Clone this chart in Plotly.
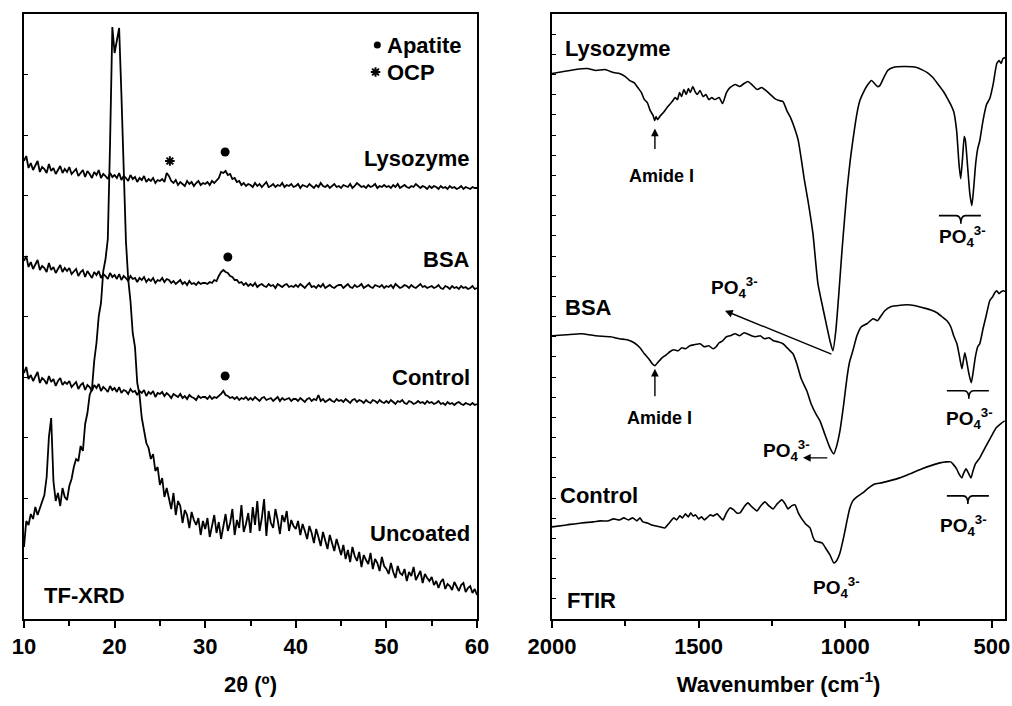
import plotly.graph_objects as go

# ---------------- TF-XRD data (intensity in arbitrary, offset units) ----------------
two_theta = [10 + 0.25 * i for i in range(201)]

xrd_lysozyme = (
    [458, 463, 451, 456, 449, 454, 458, 447, 452, 450, 446, 455, 448, 451, 445, 449, 453, 446, 450, 447]
    + [452, 445, 447, 450, 443, 446, 449, 442, 448, 445, 441, 447, 444, 449, 441, 445, 443, 440, 446, 442]
    + [444, 441, 446, 439, 443, 441, 438, 444, 440, 442, 437, 441, 439, 443, 437, 440, 438, 441, 436, 439]
    + [438, 440, 437, 446, 443, 438, 436, 439, 434, 437, 435, 433, 438, 435, 437, 433, 436, 438, 434, 436]
    + [435, 437, 434, 438, 436, 439, 441, 447, 446, 448, 444, 445, 440, 441, 437, 438, 434, 436, 433, 435]
    + [434, 432, 436, 433, 435, 432, 434, 437, 432, 433, 435, 432, 434, 433, 436, 432, 434, 433, 435, 432]
    + [433, 435, 431, 434, 433, 432, 435, 433, 431, 434, 432, 436, 433, 432, 434, 431, 433, 435, 432, 433]
    + [431, 434, 433, 432, 435, 431, 433, 436, 434, 432, 433, 431, 434, 432, 433, 435, 431, 433, 432, 434]
    + [432, 433, 431, 434, 432, 435, 431, 433, 434, 432, 431, 433, 432, 435, 433, 431, 433, 432, 430, 433]
    + [431, 433, 432, 430, 433, 431, 432, 430, 433, 431, 432, 430, 431, 433, 430, 432, 431, 430, 432, 431]
    + [431]
)
xrd_bsa = (
    [358, 363, 352, 357, 350, 355, 359, 349, 353, 351, 347, 356, 349, 352, 346, 350, 354, 347, 351, 348]
    + [351, 345, 348, 350, 343, 347, 349, 342, 348, 345, 341, 347, 344, 348, 341, 345, 343, 340, 346, 342]
    + [344, 340, 345, 339, 343, 341, 338, 343, 340, 341, 337, 341, 339, 342, 337, 340, 338, 341, 336, 339]
    + [338, 341, 337, 340, 339, 336, 338, 335, 337, 339, 335, 337, 334, 338, 335, 336, 334, 337, 335, 336]
    + [336, 335, 337, 336, 339, 338, 343, 347, 349, 347, 346, 343, 342, 339, 339, 336, 337, 334, 336, 333]
    + [335, 333, 336, 332, 334, 335, 333, 332, 335, 333, 334, 331, 335, 333, 332, 334, 335, 332, 333, 332]
    + [334, 332, 335, 333, 331, 334, 336, 332, 333, 331, 334, 332, 335, 331, 333, 334, 332, 331, 333, 334]
    + [334, 331, 333, 335, 332, 331, 334, 332, 333, 335, 331, 333, 334, 332, 331, 334, 333, 332, 334, 331]
    + [333, 332, 334, 331, 335, 333, 331, 332, 334, 333, 331, 334, 332, 331, 333, 335, 332, 333, 331, 332]
    + [333, 331, 332, 334, 331, 330, 333, 332, 330, 333, 331, 332, 330, 333, 331, 332, 330, 331, 333, 330]
    + [331]
)
xrd_control = (
    [246, 252, 240, 244, 238, 243, 247, 236, 241, 239, 235, 243, 237, 240, 233, 238, 241, 234, 237, 235]
    + [238, 232, 235, 237, 230, 234, 236, 229, 234, 232, 228, 234, 231, 235, 228, 232, 230, 227, 233, 229]
    + [231, 227, 232, 226, 229, 228, 225, 230, 227, 228, 224, 228, 226, 229, 223, 227, 225, 228, 222, 226]
    + [225, 227, 223, 226, 224, 221, 225, 223, 222, 225, 221, 223, 220, 224, 222, 221, 219, 223, 221, 222]
    + [222, 220, 223, 220, 222, 221, 223, 225, 228, 224, 223, 221, 222, 220, 222, 219, 221, 220, 222, 219]
    + [221, 219, 222, 220, 218, 221, 222, 219, 220, 221, 218, 220, 222, 218, 221, 219, 220, 221, 218, 220]
    + [220, 218, 221, 219, 217, 220, 221, 218, 220, 219, 224, 218, 220, 217, 219, 220, 218, 217, 220, 218]
    + [219, 217, 220, 218, 216, 219, 220, 217, 219, 218, 216, 219, 217, 216, 219, 218, 216, 219, 217, 216]
    + [218, 216, 219, 217, 215, 218, 217, 219, 216, 215, 218, 217, 215, 216, 218, 216, 217, 215, 218, 216]
    + [217, 215, 216, 218, 215, 216, 214, 217, 215, 216, 214, 216, 217, 215, 214, 216, 215, 214, 216, 214]
    + [215]
)
xrd_uncoated = (
    [72, 98, 94, 105, 100, 112, 104, 110, 116, 124, 142, 182, 201, 138, 118, 126, 113, 131, 122, 119]
    + [133, 140, 152, 160, 158, 173, 168, 195, 206, 224, 230, 258, 276, 303, 316, 348, 360, 380, 476, 592]
    + [566, 578, 591, 525, 451, 378, 340, 318, 286, 272, 236, 224, 201, 190, 176, 171, 160, 165, 148, 152]
    + [134, 141, 122, 131, 119, 110, 126, 104, 118, 113, 96, 109, 104, 91, 107, 99, 94, 101, 84, 98]
    + [90, 101, 82, 95, 104, 86, 97, 80, 92, 105, 88, 96, 110, 84, 99, 91, 114, 87, 95, 106]
    + [86, 112, 94, 118, 88, 101, 120, 83, 108, 96, 91, 110, 99, 85, 104, 97, 108, 88, 99, 93]
    + [90, 98, 84, 95, 88, 80, 93, 86, 76, 90, 82, 73, 87, 79, 70, 84, 75, 68, 80, 72]
    + [64, 74, 60, 69, 57, 72, 63, 58, 67, 52, 64, 59, 55, 66, 50, 60, 56, 48, 62, 53]
    + [50, 45, 56, 47, 41, 53, 46, 44, 50, 38, 47, 43, 52, 39, 44, 48, 36, 45, 41, 38]
    + [42, 34, 38, 31, 37, 40, 30, 35, 33, 29, 37, 32, 28, 34, 36, 27, 31, 33, 26, 30]
    + [24]
)
for s in (xrd_lysozyme, xrd_bsa, xrd_control, xrd_uncoated):
    assert len(s) == len(two_theta), len(s)

# peak markers (2-theta, offset intensity)
apatite_x = [32.2, 32.5, 32.2]
apatite_y = [467, 362, 243]
ocp_x = [26.1]
ocp_y = [458]

# ---------------- FTIR data (transmittance in offset units) ----------------
lyso_wn = [2000, 1960, 1920, 1880, 1850, 1820, 1790, 1770, 1750, 1735,
           1720, 1705, 1695, 1685, 1675, 1665, 1655, 1650, 1645, 1640,
           1630, 1620, 1605, 1590, 1580, 1572, 1565, 1558, 1550, 1542,
           1535, 1528, 1520, 1512, 1505, 1495, 1485, 1475, 1465, 1455,
           1445, 1430, 1418, 1405, 1393, 1375, 1360, 1345, 1332, 1315,
           1300, 1285, 1270, 1255, 1240, 1225, 1212, 1199, 1185, 1170,
           1160, 1150, 1140, 1127, 1110, 1093, 1069, 1052, 1042, 1032,
           1021, 1011, 994, 983, 974, 960, 950, 940, 925, 910,
           900, 890, 882, 870, 855, 837, 800, 756, 720, 701,
           680, 665, 653, 640, 630, 620, 612, 606, 600, 594,
           590, 582, 575, 568, 562, 555, 548, 541, 530, 518,
           507, 495, 483, 475, 468, 462, 455]
lyso_t = [545, 547, 549, 550, 548, 549, 546, 545, 542, 538,
          536, 530, 526, 519, 516, 508, 503, 498, 502, 499,
          503, 506, 512, 517, 521, 519, 526, 522, 529, 524,
          530, 526, 532, 527, 524, 528, 522, 524, 519, 521,
          519, 521, 515, 526, 531, 534, 532, 535, 537, 533,
          529, 531, 528, 524, 520, 518, 517, 508, 500, 488,
          478, 460, 440, 418, 385, 335, 301, 278, 268, 288,
          328, 368, 428, 458, 478, 505, 518, 525, 533, 538,
          535, 532, 533, 540, 548, 551, 552, 551, 546, 541,
          533, 527, 521, 514, 507, 488, 455, 440, 460, 482,
          478, 450, 425, 413, 430, 455, 470, 478, 498, 514,
          520, 535, 555, 558, 555, 560, 561]

bsa_wn = [2000, 1950, 1900, 1850, 1800, 1770, 1744, 1720, 1700, 1685,
          1670, 1658, 1649, 1640, 1625, 1610, 1598, 1585, 1570, 1557,
          1545, 1530, 1515, 1495, 1480, 1465, 1451, 1440, 1430, 1418,
          1405, 1393, 1375, 1360, 1345, 1335, 1320, 1305, 1290, 1275,
          1260, 1245, 1230, 1212, 1195, 1178, 1165, 1150, 1131, 1115,
          1100, 1086, 1070, 1052, 1039, 1030, 1018, 1005, 994, 985,
          974, 960, 945, 926, 905, 890, 882, 865, 845, 824,
          790, 760, 735, 710, 687, 670, 653, 640, 630, 619,
          610, 602, 597, 592, 586, 578, 570, 563, 556, 548,
          541, 530, 520, 507, 497, 490, 483, 475, 468, 460,
          455]
bsa_t = [283, 284, 285, 283, 282, 280, 279, 276, 271, 265,
         260, 255, 253, 256, 261, 264, 267, 269, 268, 271,
         270, 273, 274, 275, 272, 273, 270, 272, 276, 278,
         282, 283, 285, 283, 286, 285, 283, 282, 283, 280,
         281, 278, 277, 275, 270, 265, 255, 240, 228, 214,
         205, 198, 185, 171, 165, 172, 188, 215, 241, 257,
         268, 283, 292, 295, 300, 298, 301, 308, 312, 313,
         314, 313, 311, 309, 306, 302, 298, 292, 283, 275,
         262, 250, 258, 266, 258, 245, 236, 248, 262, 272,
         275, 290, 302, 318, 322, 326, 328, 325, 327, 328,
         327]

ctrl_wn = [2000, 1950, 1900, 1860, 1836, 1810, 1790, 1770, 1755, 1740,
           1725, 1710, 1700, 1690, 1675, 1660, 1645, 1630, 1615, 1600,
           1585, 1575, 1564, 1555, 1545, 1535, 1527, 1519, 1510, 1500,
           1490, 1480, 1472, 1460, 1450, 1437, 1427, 1417, 1405, 1393,
           1380, 1370, 1359, 1345, 1332, 1318, 1301, 1288, 1274, 1260,
           1246, 1232, 1216, 1205, 1195, 1183, 1171, 1160, 1148, 1135,
           1120, 1110, 1103, 1092, 1079, 1065, 1052, 1039, 1030, 1018,
           1005, 994, 985, 974, 960, 940, 920, 900, 877, 850,
           814, 780, 740, 700, 677, 655, 640, 633, 620, 612,
           602, 597, 588, 580, 571, 565, 556, 541, 525, 510,
           497, 485, 470, 456]
ctrl_t = [92, 94, 96, 97, 98, 98, 100, 99, 101, 99,
          101, 98, 101, 97, 96, 94, 93, 92, 91, 96,
          101, 99, 103, 101, 105, 102, 106, 103, 104, 100,
          102, 99, 101, 104, 103, 105, 102, 99, 106, 111,
          109, 106, 106, 112, 116, 112, 108, 113, 117, 113,
          110, 115, 119, 115, 110, 113, 114, 106, 100, 95,
          91, 82, 78, 77, 76, 70, 64, 56, 58, 66,
          82, 98, 110, 118, 122, 126, 131, 135, 136, 138,
          141, 145, 150, 154, 156, 157, 157, 155, 150, 145,
          141, 145, 150, 146, 141, 147, 155, 161, 170, 178,
          185, 191, 195, 198]
for a, b in ((lyso_wn, lyso_t), (bsa_wn, bsa_t), (ctrl_wn, ctrl_t)):
    assert len(a) == len(b), (len(a), len(b))

# ---------------- figure ----------------
FONT = "Liberation Sans, Arial, Helvetica, sans-serif"
BLACK = "#000000"

fig = go.Figure()
for ys in (xrd_lysozyme, xrd_bsa, xrd_control, xrd_uncoated):
    fig.add_trace(go.Scatter(x=two_theta, y=ys, mode="lines",
                             line=dict(color=BLACK, width=1.8),
                             xaxis="x", yaxis="y", showlegend=False, hoverinfo="skip"))
fig.add_trace(go.Scatter(x=apatite_x + [49.0], y=apatite_y + [574], mode="markers",
                         marker=dict(symbol="circle", size=[9, 9, 9, 7], color=BLACK, opacity=1,
                                     line=dict(width=0, color=BLACK)),
                         xaxis="x", yaxis="y", showlegend=False, hoverinfo="skip"))
fig.add_trace(go.Scatter(x=ocp_x + [48.8], y=ocp_y + [547], mode="markers",
                         marker=dict(symbol="asterisk-open", size=8, color=BLACK, opacity=1,
                                     line=dict(color=BLACK, width=2)),
                         xaxis="x", yaxis="y", showlegend=False, hoverinfo="skip"))

for wn, tt in ((lyso_wn, lyso_t), (bsa_wn, bsa_t), (ctrl_wn, ctrl_t)):
    fig.add_trace(go.Scatter(x=wn, y=tt, mode="lines",
                             line=dict(color=BLACK, width=1.6, shape="spline", smoothing=0.5),
                             xaxis="x2", yaxis="y2", showlegend=False, hoverinfo="skip"))

ann = []


def txt(x, y, s, size=22, xa="left", ref="1", ya="middle"):
    ann.append(dict(x=x, y=y, xref="x" + ("" if ref == "1" else ref), yref="y" + ("" if ref == "1" else ref),
                    text="<b>" + s + "</b>", showarrow=False, xanchor=xa, yanchor=ya,
                    font=dict(family=FONT, size=size, color=BLACK)))


def arrow(xh, yh, xt, yt):
    ann.append(dict(x=xh, y=yh, ax=xt, ay=yt, xref="x2", yref="y2", axref="x2", ayref="y2",
                    text="", showarrow=True, arrowhead=2, arrowsize=1.1, arrowwidth=1.4,
                    arrowcolor=BLACK, standoff=0, startstandoff=0))


# left panel labels
txt(49.9, 574, "Apatite", 22)
txt(49.9, 547, "OCP", 22)
txt(59.5, 461, "Lysozyme", 22, xa="right")
txt(59.5, 360, "BSA", 22, xa="right")
txt(59.5, 242, "Control", 22, xa="right")
txt(59.5, 86, "Uncoated", 22, xa="right")
txt(12.0, 24, "TF-XRD", 22)

# right panel labels
PO4 = "PO<sub>4</sub><sup>3-</sup>"
txt(1962, 570, "Lysozyme", 22, ref="2")
txt(1962, 311, "BSA", 22, ref="2")
txt(1979, 123, "Control", 22, ref="2")
txt(1956, 18, "FTIR", 22, ref="2")
txt(1628, 443, "Amide I", 18, xa="center", ref="2")
txt(1632, 201, "Amide I", 18, xa="center", ref="2")
txt(686, 382, PO4, 19, ref="2")
txt(1463, 331, PO4, 19, ref="2")
txt(1288, 168, PO4, 19, ref="2")
txt(662, 200, PO4, 19, ref="2")
txt(682, 93, PO4, 19, ref="2")
txt(1116, 31, PO4, 19, ref="2")

arrow(1649, 490, 1649, 468)
arrow(1649, 250, 1649, 221)
arrow(1410, 308, 1042, 264)
arrow(1144, 161, 1056, 161)

# curly brackets under the phosphate doublets (wavenumber left/centre/right, y, tip)
brackets = [(680.5, 605.5, 537.3, 403, 395),
            (653.3, 578.2, 510.0, 228, 220),
            (653.3, 581.6, 510.0, 123, 115)]
shapes = []
for xl, xc, xr, y0, tip in brackets:
    d = 16
    path = (f"M {xl},{y0} L {xc + d},{y0} Q {xc},{y0} {xc},{tip} "
            f"Q {xc},{y0} {xc - d},{y0} L {xr},{y0}")
    shapes.append(dict(type="path", path=path, xref="x2", yref="y2",
                       line=dict(color=BLACK, width=1.6)))

tickfont = dict(family=FONT, size=22, color=BLACK, weight="bold")
titlefont = dict(family=FONT, size=22, color=BLACK, weight="bold")
ydom = [(706 - 619) / 706, (706 - 14) / 706]

common_x = dict(showline=True, linecolor=BLACK, linewidth=1.5, mirror=True, showgrid=False,
                zeroline=False, ticks="outside", ticklen=7, tickwidth=1.5, tickcolor=BLACK,
                tickfont=tickfont, ticklabelstandoff=0, automargin=False)
common_y = dict(showline=True, linecolor=BLACK, linewidth=1.5, mirror=True, showgrid=False,
                zeroline=False, ticks="inside", ticklen=4, tickwidth=1, tickcolor=BLACK,
                showticklabels=False, domain=ydom, automargin=False)

fig.update_layout(
    width=1012, height=706,
    margin=dict(l=0, r=0, t=0, b=0, autoexpand=False),
    paper_bgcolor="white", plot_bgcolor="white",
    xaxis=dict(domain=[24 / 1012, 477 / 1012], range=[10, 60], tick0=10, dtick=10,
               minor=dict(dtick=5, ticks="outside", ticklen=5, tickwidth=1.5, tickcolor=BLACK),
               title=dict(text="2θ (º)", font=titlefont, standoff=18),
               anchor="y", **common_x),
    yaxis=dict(range=[0, 605], tick0=0, dtick=60.5, anchor="x", **common_y),
    xaxis2=dict(domain=[552 / 1012, 1005 / 1012], range=[2000, 455], tick0=0, dtick=500,
                minor=dict(dtick=250, ticks="outside", ticklen=5, tickwidth=1.5, tickcolor=BLACK),
                title=dict(text="Wavenumber (cm<sup>-1</sup>)", font=titlefont, standoff=18),
                anchor="y2", **common_x),
    yaxis2=dict(range=[0, 604.5], tick0=0, dtick=604.5 / 30, anchor="x2", **common_y),
    annotations=ann,
    shapes=shapes,
    font=dict(family=FONT, color=BLACK),
)

fig.write_html("out.html", config={"displayModeBar": False},
               post_script="document.body.style.margin='0px';")
